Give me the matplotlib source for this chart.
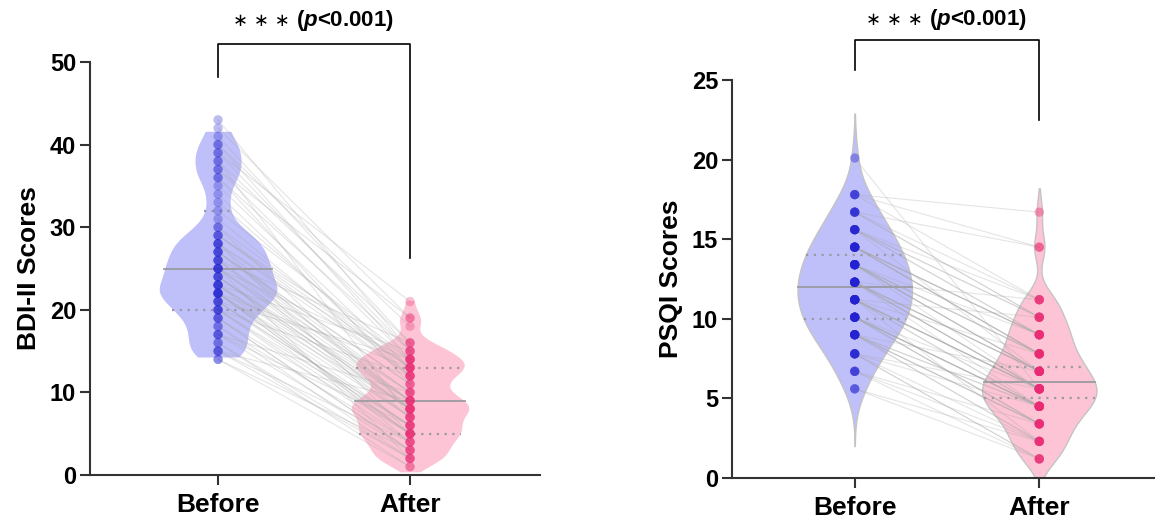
import numpy as np
import matplotlib
matplotlib.use("Agg")
import matplotlib.pyplot as plt

plt.rcParams["font.family"] = ["Liberation Sans", "DejaVu Sans"]
plt.rcParams["font.weight"] = "bold"
plt.rcParams["mathtext.fontset"] = "custom"
plt.rcParams["mathtext.it"] = "Liberation Sans:italic:bold"
plt.rcParams["mathtext.rm"] = "Liberation Sans:bold"

groups = ["Before", "After"]

# BDI-II, one value per subject, before sorted; after paired by position
bdi_before = [14, 14, 15, 15, 15, 16, 16, 17, 17, 17, 18, 18, 19,
              19, 19, 20, 20, 20, 20, 21, 21, 21, 21, 22, 22, 22,
              22, 22, 22, 23, 23, 23, 23, 23, 24, 24, 24, 24, 25,
              25, 25, 25, 25, 26, 26, 26, 26, 27, 27, 27, 27, 28,
              28, 28, 28, 29, 29, 29, 30, 30, 31, 32, 33, 34, 35,
              36, 36, 37, 37, 38, 38, 39, 39, 40, 40, 41, 42, 43]
bdi_after = [3, 1, 4, 2, 9, 2, 1, 6, 3, 10, 2, 4, 3,
             5, 3, 6, 12, 4, 5, 6, 14, 5, 6, 5, 6, 5,
             8, 7, 13, 9, 4, 8, 7, 15, 8, 9, 7, 8, 8,
             10, 9, 2, 14, 10, 16, 9, 7, 11, 10, 9, 11, 8,
             13, 12, 5, 14, 13, 12, 8, 13, 12, 14, 13, 12, 13,
             15, 11, 14, 19, 16, 7, 15, 21, 14, 18, 16, 19, 15]
bdi_quart_before = [20, 25, 32]
bdi_quart_after = [5, 9, 13]
bdi_extent_before = [14.2, 41.7]
bdi_extent_after = [0.3, 21.2]

# PSQI
psqi_before = [5.6, 5.6, 6.7, 6.7, 6.7, 7.8, 7.8, 7.8, 7.8, 7.8, 9.0, 9.0, 9.0,
               9.0, 9.0, 9.0, 9.0, 9.0, 10.1, 10.1, 10.1, 10.1, 10.1, 10.1, 10.1, 10.1,
               10.1, 11.2, 11.2, 11.2, 11.2, 11.2, 11.2, 11.2, 11.2, 11.2, 11.2, 12.3, 12.3,
               12.3, 12.3, 12.3, 12.3, 12.3, 12.3, 12.3, 12.3, 13.4, 13.4, 13.4, 13.4, 13.4,
               13.4, 13.4, 13.4, 13.4, 14.5, 14.5, 14.5, 14.5, 14.5, 14.5, 14.5, 14.5, 15.6,
               15.6, 15.6, 15.6, 15.6, 15.6, 16.7, 16.7, 16.7, 16.7, 17.8, 17.8, 17.8, 20.1]
psqi_after = [1.2, 2.3, 1.2, 3.4, 2.3, 1.2, 4.5, 2.3, 1.2, 5.6, 2.3, 3.4, 2.3,
              3.4, 4.5, 3.4, 6.7, 4.5, 4.5, 3.4, 4.5, 3.4, 4.5, 4.5, 3.4, 4.5,
              5.6, 4.5, 5.6, 7.8, 5.6, 2.3, 5.6, 4.5, 5.6, 10.1, 5.6, 5.6, 5.6,
              6.7, 5.6, 6.7, 4.5, 6.7, 11.2, 6.7, 5.6, 6.7, 7.8, 6.7, 6.7, 6.7,
              7.8, 9.0, 5.6, 7.8, 9.0, 7.8, 9.0, 7.8, 9.0, 7.8, 9.0, 7.8, 9.0,
              10.1, 9.0, 11.2, 6.7, 10.1, 11.2, 14.5, 10.1, 10.1, 11.2, 16.7, 14.5, 5.6]
psqi_quart_before = [10, 12, 14]
psqi_quart_after = [5, 6, 7]
psqi_extent_before = [2.0, 22.9]
psqi_extent_after = [0.0, 18.2]


def violin(ax, x, values, extent, bw, half, face, edge, quart):
    grid = np.linspace(extent[0], extent[1], 400)
    v = np.asarray(values, dtype=float)
    dens = np.exp(-0.5 * ((grid[:, None] - v[None, :]) / bw) ** 2).sum(axis=1)
    w = dens / dens.max() * half
    ax.fill_betweenx(grid, x - w, x + w, facecolor=face, edgecolor=edge,
                     linewidth=1.0, zorder=1)
    for i, q in enumerate(quart):
        wq = np.interp(q, grid, w)
        ls = "-" if i == 1 else (0, (1, 2.5))
        ax.plot([x - wq, x + wq], [q, q], color="#9a9aa2", lw=1.3 if i == 1 else 1.6,
                ls=ls, zorder=2)


def panel(ax, before, after, ext_b, ext_a, q_b, q_a, bws, ylim, ticks, ylabel,
          bracket, edge, dot_alpha):
    violin(ax, 0, before, ext_b, bws[0], 0.31, "#bfbffa", edge, q_b)
    violin(ax, 1, after, ext_a, bws[1], 0.31, "#fcc4d4", edge, q_a)
    for b, a in zip(before, after):
        ax.plot([0, 1], [b, a], color="#a8a8a8", alpha=0.3, lw=0.8, zorder=3)
    ax.scatter(np.zeros(len(before)), before, s=45, color="#2222d2", alpha=dot_alpha,
               edgecolors="none", zorder=4)
    ax.scatter(np.ones(len(after)), after, s=45, color="#ea2a72", alpha=dot_alpha,
               edgecolors="none", zorder=4)

    ax.set_ylim(ylim)
    ax.set_yticks(ticks)
    ax.set_xticks([0, 1])
    ax.set_xticklabels(groups, fontsize=19, fontweight="bold")
    ax.set_ylabel(ylabel, fontsize=19, fontweight="bold", labelpad=6)
    for s in ["top", "right"]:
        ax.spines[s].set_visible(False)
    for s in ["left", "bottom"]:
        ax.spines[s].set_linewidth(1.5)
        ax.spines[s].set_color("#333333")
    ax.tick_params(axis="y", labelsize=17, width=1.5, length=7, color="#333333", pad=3)
    ax.tick_params(axis="x", width=1.5, length=7, color="#333333", pad=6)
    for lab in ax.get_yticklabels():
        lab.set_fontweight("bold")

    # significance bracket
    top, left_bot, right_bot, txt_y = bracket
    ax.plot([0, 0, 1, 1], [left_bot, top, top, right_bot], color="black", lw=1.2,
            clip_on=False)
    ax.annotate("\u2217 \u2217 \u2217", xy=(0.5, txt_y), xytext=(-24, 0),
                textcoords="offset pixels", ha="right", va="center", fontsize=13,
                family="DejaVu Sans", fontweight="normal", annotation_clip=False)
    ax.annotate("($p$<0.001)", xy=(0.5, txt_y), xytext=(-18, 0),
                textcoords="offset pixels", ha="left", va="center", fontsize=16,
                fontweight="bold", annotation_clip=False)


fig = plt.figure(figsize=(11.55, 5.19), dpi=100)

ax1 = fig.add_axes([90 / 1155, 1 - 475 / 519, 450 / 1155, 413 / 519])
panel(ax1, bdi_before, bdi_after, bdi_extent_before, bdi_extent_after,
      bdi_quart_before, bdi_quart_after, (1.3, 1.0), (0, 50), [0, 10, 20, 30, 40, 50],
      "BDI-II Scores", (52.2, 48.2, 26.3, 55.0), "white", 0.3)
ax1.set_xlim(-0.667, 1.677)

ax2 = fig.add_axes([732 / 1155, 1 - 478 / 519, 423 / 1155, 398 / 519])
panel(ax2, psqi_before, psqi_after, psqi_extent_before, psqi_extent_after,
      psqi_quart_before, psqi_quart_after, (1.3, 0.85), (0, 25), [0, 5, 10, 15, 20, 25],
      "PSQI Scores", (27.5, 25.6, 22.5, 28.8), "#c4c4c4", 0.4)
ax2.set_xlim(-0.665, 1.627)

fig.savefig("out.png", dpi=100)
